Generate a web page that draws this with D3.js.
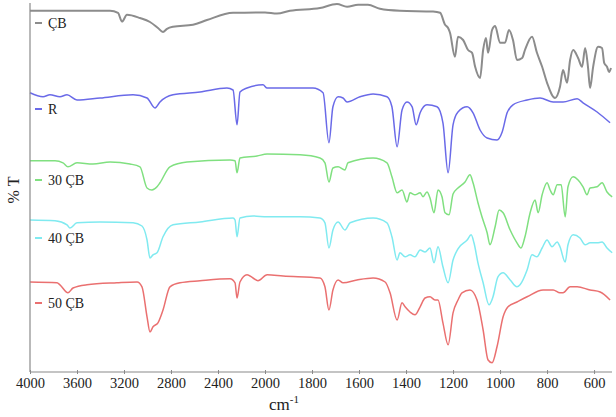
<!DOCTYPE html>
<html>
<head>
<meta charset="utf-8">
<script src="https://cdn.jsdelivr.net/npm/d3@7"></script>
<style>
  body { margin: 0; background: #fff; }
  svg { display: block; font-family: "Liberation Serif", "DejaVu Serif", serif; }
</style>
</head>
<body>
<div id="chart"></div>
<script>
// spectra, [wavenumber cm-1, %T (offset, arbitrary)]
const spectrumCB = [
  [4000, 90.3], [3319, 90.3], [3251, 89.8], [3217, 87.6], [3175, 89.3], [3064, 88.5], [2979, 87.5],
  [2911, 86], [2868, 85], [2834, 85.8], [2783, 86.3], [2613, 86.8], [2494, 88], [2272, 89.8],
  [2000, 89.9], [1949, 89.6], [1894, 90.3], [1766, 91], [1694, 92], [1651, 91.3], [1604, 91.8],
  [1562, 91.8], [1511, 90.8], [1426, 90.3], [1285, 90.1], [1255, 89.8], [1234, 86.8], [1221, 86],
  [1213, 84.8], [1192, 78.8], [1179, 83.8], [1157, 83], [1136, 80.5], [1119, 79.8], [1106, 76.3],
  [1085, 73.5], [1072, 80.5], [1060, 83.5], [1051, 79.8], [1034, 85.5], [1021, 86.5], [1000, 82.3],
  [979, 82.3], [962, 85.5], [945, 83], [928, 78], [906, 78.5], [894, 80.5], [864, 83.8], [843, 79.8],
  [821, 76.3], [800, 72.3], [766, 68.5], [745, 71.3], [732, 75.5], [715, 72.3], [702, 78], [689, 80.5],
  [668, 78.5], [651, 76.3], [638, 81], [626, 76.3], [617, 71], [604, 76.3], [583, 81.3], [566, 81],
  [557, 77.3], [545, 76.3], [536, 75], [528, 76]
];
const spectrumR = [
  [4000, 69.8], [3889, 68.8], [3830, 69.3], [3745, 68.8], [3685, 69.3], [3600, 68], [3404, 68.5],
  [3123, 69.3], [3004, 68.5], [2936, 66], [2894, 67.5], [2783, 69.3], [2553, 70], [2324, 71],
  [2272, 70.5], [2238, 61.8], [2213, 70], [2153, 71], [2017, 71.8], [1991, 71], [1894, 71], [1796, 71],
  [1753, 69.8], [1728, 57.3], [1711, 66.3], [1689, 68.8], [1668, 68.5], [1651, 67.5], [1596, 68.8],
  [1540, 69.5], [1481, 68.8], [1460, 66.3], [1438, 56.3], [1417, 65.5], [1396, 67.5], [1374, 66.3],
  [1357, 61.8], [1340, 64.8], [1311, 66.8], [1268, 66.3], [1243, 62.3], [1221, 49.8], [1200, 61.8],
  [1179, 65], [1140, 66.3], [1115, 64.8], [1085, 60.5], [1055, 58.5], [1013, 58], [991, 60],
  [970, 64.8], [945, 66.8], [885, 68], [830, 68.5], [774, 67.5], [732, 67.5], [672, 68.3],
  [647, 67.3], [587, 65], [532, 62.3]
];
const spectrum30 = [
  [4000, 52.8], [3787, 52.8], [3719, 52.3], [3677, 51.3], [3600, 52.3], [3464, 52], [3319, 52.5],
  [3149, 52], [3064, 51.3], [3004, 46], [2962, 45.5], [2919, 46.3], [2894, 47.3], [2809, 51.3],
  [2664, 52.5], [2298, 53], [2255, 52.8], [2238, 49.8], [2213, 53.5], [2068, 54], [1991, 54.5],
  [1851, 54.3], [1766, 53.5], [1745, 52.3], [1728, 47.5], [1711, 51], [1689, 51.3], [1660, 50.5],
  [1647, 52.3], [1540, 53.5], [1481, 52.3], [1460, 48.8], [1438, 44.8], [1417, 45.5], [1396, 42.5],
  [1383, 44.8], [1362, 44.3], [1340, 44.8], [1328, 43.8], [1311, 45], [1298, 43.5], [1281, 39.8],
  [1264, 45.5], [1247, 43.8], [1234, 39.8], [1217, 39.3], [1200, 44.5], [1179, 46], [1149, 47.5],
  [1128, 49.3], [1115, 47.3], [1094, 42.3], [1077, 38.8], [1055, 34.8], [1043, 31.8], [1021, 36.3],
  [1004, 40.5], [987, 39.8], [957, 35.5], [928, 32.3], [911, 31], [894, 33.8], [872, 39.8], [851, 43],
  [838, 39.8], [821, 44.3], [800, 47.3], [787, 45.5], [774, 44.3], [757, 46.8], [740, 46.8],
  [723, 38.8], [711, 46.3], [689, 48.8], [668, 48], [647, 46.3], [630, 44.3], [617, 46], [587, 46.3],
  [566, 47.3], [545, 45], [523, 43.8]
];
const spectrum40 = [
  [4000, 38], [3787, 37.8], [3685, 36.8], [3660, 36], [3600, 37.3], [3404, 37.5], [3123, 37.3],
  [3047, 36.5], [3004, 33], [2979, 28.5], [2953, 29.3], [2919, 29.8], [2868, 33.8], [2783, 36.8],
  [2553, 37.5], [2272, 38.5], [2255, 38], [2238, 33.8], [2213, 38.5], [2102, 39], [1991, 38.8],
  [1851, 38.8], [1766, 38.5], [1745, 37.3], [1728, 31], [1711, 35.5], [1689, 37.5], [1660, 35.5],
  [1638, 37.3], [1540, 38.5], [1481, 37.3], [1460, 33.8], [1438, 28], [1426, 29.8], [1404, 28.8],
  [1383, 29.3], [1362, 28.8], [1340, 30.5], [1319, 30], [1298, 31], [1281, 27.3], [1264, 31.3],
  [1243, 26.3], [1221, 22.3], [1200, 28], [1179, 30.8], [1140, 33], [1123, 34.3], [1111, 32.3],
  [1094, 27.3], [1072, 22.3], [1047, 16.8], [1030, 18.8], [1009, 23.8], [987, 24.8], [957, 23],
  [928, 21.3], [915, 21.8], [885, 25.5], [864, 29.3], [843, 28.8], [821, 31], [800, 33], [779, 31.3],
  [757, 32.5], [745, 31.3], [723, 27.5], [711, 31.8], [689, 34.3], [660, 33.5], [638, 31.8],
  [617, 32.3], [587, 32.3], [566, 32.5], [545, 31], [523, 29.8]
];
const spectrum50 = [
  [4000, 22.5], [3770, 22.3], [3745, 21.8], [3677, 19.8], [3634, 21], [3515, 21.8], [3260, 22.3],
  [3089, 22.5], [3047, 21.3], [3004, 13.8], [2979, 10], [2953, 11.3], [2911, 12.3], [2868, 15.5],
  [2809, 21.3], [2723, 22.3], [2553, 22.8], [2298, 23.3], [2255, 22.3], [2238, 18.5], [2213, 22.5],
  [2153, 24.3], [2102, 23.5], [2060, 22.8], [1991, 24.3], [1923, 24], [1766, 23.5], [1745, 21.3],
  [1728, 15.5], [1711, 20.5], [1689, 23], [1668, 22.3], [1609, 23], [1540, 23.5], [1489, 22.5],
  [1468, 19.8], [1438, 13], [1417, 17.3], [1404, 16.3], [1383, 15], [1362, 14.3], [1340, 16.3],
  [1319, 18.5], [1298, 18.8], [1277, 18], [1264, 18], [1243, 12.3], [1221, 6.8], [1200, 14.8],
  [1179, 18], [1162, 19.8], [1128, 20.5], [1098, 18], [1072, 10.5], [1051, 3], [1034, 2.3],
  [1013, 6.3], [987, 13.8], [966, 16.3], [928, 17.5], [885, 18.8], [817, 20.5], [774, 20.5],
  [745, 19.8], [732, 19.8], [702, 21.3], [672, 21.3], [617, 20.5], [574, 20], [532, 18]
];

const sampleNames = ["ÇB", "R", "30 ÇB", "40 ÇB", "50 ÇB"];
const xTickValues = [4000, 3600, 3200, 2800, 2400, 2000, 1800, 1600, 1400, 1200, 1000, 800, 600];

const width = 616, height = 417;
const colors = ["#8c8c8c", "#6a6ae8", "#80e080", "#80eaf0", "#ea7070"];
const spectra = [spectrumCB, spectrumR, spectrum30, spectrum40, spectrum50];
const legendY = [23, 109, 180, 238, 303];

const svg = d3.select("#chart").append("svg")
    .attr("width", width)
    .attr("height", height);

// axis changes scale at 2000 cm-1, as on the instrument plot
const x = d3.scaleLinear()
    .domain([4000, 2000, 528])
    .range([30, 265, 611]);
const y = d3.scaleLinear()
    .domain([0, 93])
    .range([372, 0]);

const line = d3.line()
    .x(d => x(d[0]))
    .y(d => y(d[1]))
    .curve(d3.curveMonotoneX);

svg.selectAll(".spectrum")
  .data(spectra)
  .enter().append("path")
    .attr("class", "spectrum")
    .attr("fill", "none")
    .attr("stroke", (d, i) => colors[i])
    .attr("stroke-width", (d, i) => i == 0 ? 2 : 1.5)
    .attr("stroke-linejoin", "round")
    .attr("d", line);

// x axis
const xAxis = svg.append("g")
    .attr("transform", "translate(0,372)")
    .call(d3.axisBottom(x)
      .tickValues(xTickValues)
      .tickFormat(d3.format("d"))
      .tickSizeInner(2)
      .tickSizeOuter(0)
      .tickPadding(4));
xAxis.select(".domain").attr("stroke", "#8a8a8a").attr("stroke-width", 1.2)
    .attr("d", "M30,0H612");
xAxis.selectAll(".tick line").attr("stroke", "#8a8a8a").attr("y1", -2);
xAxis.selectAll(".tick text")
    .attr("font-family", "Liberation Serif")
    .attr("font-size", 14.5)
    .attr("fill", "#222");

// y axis, no ticks
svg.append("line")
    .attr("x1", 30).attr("x2", 30)
    .attr("y1", 3).attr("y2", 372)
    .attr("stroke", "#8a8a8a")
    .attr("stroke-width", 1.2);

// axis titles
const xt = svg.append("text")
    .attr("x", 284).attr("y", 410)
    .attr("text-anchor", "middle")
    .attr("font-size", 17)
    .attr("fill", "#222")
    .text("cm");
xt.append("tspan").attr("dy", -7).attr("font-size", 11).text("-1");

svg.append("text")
    .attr("transform", "translate(19,190) rotate(-90)")
    .attr("text-anchor", "middle")
    .attr("font-size", 16)
    .attr("fill", "#222")
    .text("% T");

// legend labels next to each trace
const leg = svg.selectAll(".leg")
  .data(sampleNames)
  .enter().append("g")
    .attr("class", "leg")
    .attr("transform", (d, i) => "translate(35," + legendY[i] + ")");
leg.append("line")
    .attr("x1", 0).attr("x2", 7)
    .attr("stroke", (d, i) => colors[i])
    .attr("stroke-width", 2);
leg.append("text")
    .attr("x", 13).attr("dy", "0.35em")
    .attr("font-size", 14)
    .attr("fill", "#222")
    .text(d => d);
</script>
</body>
</html>
